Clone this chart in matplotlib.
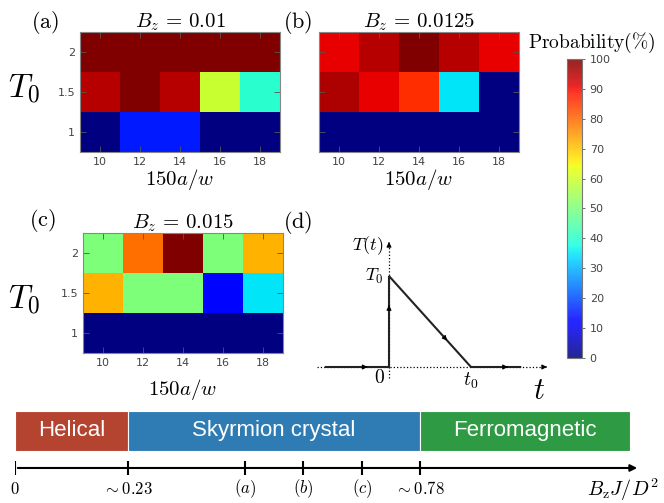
import numpy as np
import matplotlib
matplotlib.use('Agg')
import matplotlib.pyplot as plt
from matplotlib.patches import Rectangle

plt.rcParams['mathtext.fontset'] = 'cm'
plt.rcParams['font.family'] = ['DejaVu Sans']

# ---------------- data ----------------
width_vals = [10, 12, 14, 16, 18]          # 150a/w
T0_vals = [1.0, 1.5, 2.0]                  # T_0
T0_labels = ['1', '1.5', '2']
prob_a = [[0, 15, 15, 0, 0],
          [95, 100, 95, 59, 40],
          [100, 100, 100, 100, 100]]
prob_b = [[0, 0, 0, 0, 0],
          [96, 91, 86, 35, 0],
          [91, 95, 100, 95, 91]]
prob_c = [[0, 0, 0, 0, 0],
          [72, 50, 50, 13, 35],
          [50, 79, 100, 50, 72]]
bz_titles = ['0.01', '0.0125', '0.015']
cbar_ticks = list(range(0, 101, 10))

# annealing schedule T(t) (t0 = 1, T0 = 1)
sched_t = [-0.77, 0, 0, 1, 1.6]
sched_T = [0, 0, 1, 0, 0]

# schematic phase diagram (positions along the schematic axis, not to scale)
phase_names = ['Helical', 'Skyrmion crystal', 'Ferromagnetic']
phase_bounds = [0.0, 0.23, 0.825, 1.253]
phase_colors = ['#b4432f', '#2f7cb5', '#2e9a43']
mark_pos = [0.0, 0.23, 0.468, 0.587, 0.707, 0.825]
mark_labels = ['$0$', r'$\sim 0.23$', '$(a)$', '$(b)$', '$(c)$', r'$\sim 0.78$']

W, H = 664, 503
fig = plt.figure(figsize=(W / 100, H / 100), dpi=100)


def px_axes(x0, y0, x1, y1):
    return fig.add_axes([x0 / W, 1 - y1 / H, (x1 - x0) / W, (y1 - y0) / H])


def edges(c):
    c = np.asarray(c, float)
    d = np.diff(c)
    return np.concatenate([[c[0] - d[0] / 2], c[:-1] + d / 2, [c[-1] + d[-1] / 2]])


xe = edges(width_vals)
ye = edges(T0_vals)


def heat(ax, data, title, show_y=True):
    m = ax.pcolormesh(xe, ye, np.array(data), cmap='jet', vmin=0, vmax=100)
    ax.set_xlim(xe[0], xe[-1])
    ax.set_ylim(ye[0], ye[-1])
    ax.set_xticks(width_vals)
    ax.set_yticks(T0_vals)
    ax.set_yticklabels(T0_labels if show_y else [])
    ax.tick_params(direction='in', top=True, right=True, labelsize=8,
                   labelcolor='#444444', length=4, color='#555555', width=0.6)
    for s in ax.spines.values():
        s.set_color('#888888')
        s.set_linewidth(0.8)
    ax.set_title(r'$B_z\,=\,%s$' % title, fontsize=15, pad=3)
    return m


axa = px_axes(80, 32, 280, 152)
axb = px_axes(319, 32, 519, 152)
axc = px_axes(83, 233, 283, 353)
mesh = heat(axa, prob_a, bz_titles[0])
heat(axb, prob_b, bz_titles[1], show_y=False)
heat(axc, prob_c, bz_titles[2])


def ftext(x, y, s, **kw):
    fig.text(x / W, 1 - y / H, s, **kw)


# panel letters and axis labels
ftext(45, 22, r'$\mathrm{(a)}$', fontsize=16, ha='center', va='center')
ftext(298, 22, r'$\mathrm{(b)}$', fontsize=16, ha='center', va='center')
ftext(42, 220, r'$\mathrm{(c)}$', fontsize=16, ha='center', va='center')
ftext(298, 222, r'$\mathrm{(d)}$', fontsize=16, ha='center', va='center')
ftext(24, 88, r'$T_0$', fontsize=24, ha='center', va='center')
ftext(24, 300, r'$T_0$', fontsize=24, ha='center', va='center')
ftext(180, 180, r'$150a/w$', fontsize=15, ha='center', va='center')
ftext(419, 180, r'$150a/w$', fontsize=15, ha='center', va='center')
ftext(183, 390, r'$150a/w$', fontsize=15, ha='center', va='center')

# colorbar
cax = px_axes(567, 59, 582, 358)
cb = fig.colorbar(mesh, cax=cax, ticks=cbar_ticks)
cb.solids.set_alpha(0.85)
cb.outline.set_edgecolor('#777777')
cb.outline.set_linewidth(0.8)
cax.tick_params(labelsize=8, labelcolor='#444444', length=2, color='#555555', width=0.6)
ftext(592, 43, r'$\mathrm{Probability(\%)}$', fontsize=14, ha='center', va='center')

# panel (d): schedule
axd = px_axes(317, 242, 547, 367)
axd.set_xlim(-0.878, 1.927)
axd.set_ylim(0, 1.374)
axd.axis('off')
axd.plot([-0.878, 1.9], [0, 0], ls=':', color='k', lw=0.9, clip_on=False)
axd.plot([0, 0], [-0.12, 1.34], ls=':', color='k', lw=0.9, clip_on=False)
ap = dict(arrowstyle='-|>', color='k', lw=0.8, mutation_scale=7)
axd.annotate('', xy=(1.927, 0), xytext=(1.88, 0), arrowprops=ap, annotation_clip=False)
axd.annotate('', xy=(0, 1.374), xytext=(0, 1.33), arrowprops=ap, annotation_clip=False)
axd.plot(sched_t, sched_T, color='#222222', lw=1.5, clip_on=False, solid_joinstyle='miter')


def mid_arrow(p0, p1, frac):
    x = p0[0] + (p1[0] - p0[0]) * frac
    y = p0[1] + (p1[1] - p0[1]) * frac
    dx = (p1[0] - p0[0]) * 0.02
    dy = (p1[1] - p0[1]) * 0.02
    axd.annotate('', xy=(x, y), xytext=(x - dx, y - dy), arrowprops=ap, annotation_clip=False)


pts = list(zip(sched_t, sched_T))
mid_arrow(pts[0], pts[1], 0.66)
mid_arrow(pts[1], pts[2], 0.68)
mid_arrow(pts[2], pts[3], 0.71)
mid_arrow(pts[3], pts[4], 0.75)
axd.text(-0.07, 1.33, r'$T(t)$', fontsize=13, ha='right', va='center')
axd.text(-0.07, 1.0, r'$T_0$', fontsize=13, ha='right', va='center')
axd.text(-0.11, -0.12, r'$0$', fontsize=14, ha='center', va='center')
axd.text(1.0, -0.15, r'$t_0$', fontsize=14, ha='center', va='center')
axd.text(1.83, -0.26, r'$t$', fontsize=22, ha='center', va='center')

# phase diagram bar
axp = px_axes(15, 400, 640, 503)
axp.set_xlim(0, 1.273)
axp.set_ylim(0, 1)
axp.axis('off')
for i, name in enumerate(phase_names):
    b0, b1 = phase_bounds[i], phase_bounds[i + 1]
    axp.add_patch(Rectangle((b0, 0.505), b1 - b0, 0.388, facecolor=phase_colors[i],
                            edgecolor='white', lw=0.8, clip_on=False))
    axp.text((b0 + b1) / 2, 0.70, name, color='white', fontsize=16,
             family='Liberation Sans', ha='center', va='center')
axp.annotate('', xy=(1.273, 0.34), xytext=(0, 0.34),
             arrowprops=dict(arrowstyle='-|>', color='k', lw=1.5, mutation_scale=10),
             annotation_clip=False)
axp.vlines(mark_pos, 0.27, 0.41, color='k', lw=1.5)
for p, lab in zip(mark_pos, mark_labels):
    axp.text(p, 0.14, lab, fontsize=12, ha='center', va='center')
fig.text(658 / W, 1 - 490 / H, r'$B_\mathrm{z}J/D^2$', fontsize=14.5, ha='right', va='center')

fig.savefig('out.png', dpi=100)
